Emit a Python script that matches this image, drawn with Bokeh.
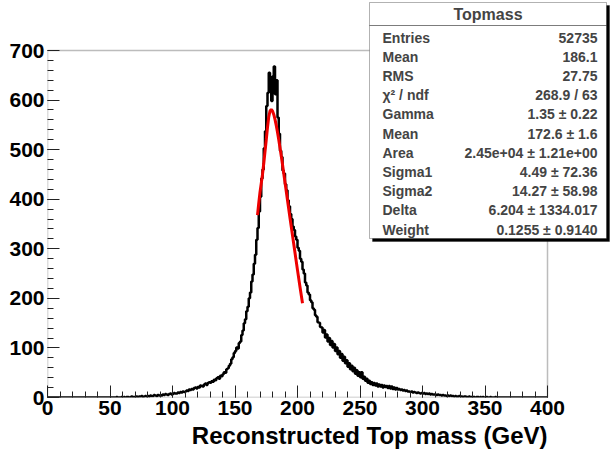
import numpy as np
from bokeh.plotting import figure
from bokeh.models import Label, BoxAnnotation, Range1d, FixedTicker, Title
from bokeh.embed import file_html
from bokeh.resources import INLINE

# ---- data -------------------------------------------------------------
bin_width = 1.0
counts = (
    [0] * 50
    + [0, 0, 0, 0, 0, 1, 0, 0, 0, 1]
    + [0, 1, 0, 1, 1, 0, 1, 2, 1, 1]
    + [1, 2, 1, 2, 2, 3, 1, 2, 3, 2]
    + [3, 2, 4, 3, 3, 5, 4, 3, 5, 4]
    + [5, 4, 6, 5, 7, 6, 5, 7, 8, 6]
    + [7, 9, 8, 8, 10, 9, 11, 10, 12, 11]
    + [12, 14, 13, 16, 15, 17, 16, 19, 20, 18]
    + [21, 20, 24, 23, 22, 26, 28, 25, 29, 31]
    + [30, 33, 32, 36, 35, 39, 41, 38, 44, 43]
    + [47, 51, 50, 57, 59, 64, 68, 77, 81, 90]
    + [94, 101, 99, 110, 113, 126, 135, 150, 158, 174]
    + [183, 200, 212, 234, 248, 270, 288, 318, 342, 375]
    + [405, 442, 460, 503, 537, 588, 615, 655, 642, 598]
    + [648, 668, 612, 640, 565, 532, 498, 485, 458, 452]
    + [430, 418, 398, 386, 370, 360, 345, 338, 325, 318]
    + [302, 296, 280, 274, 258, 250, 232, 226, 212, 208]
    + [196, 192, 180, 177, 166, 163, 152, 151, 142, 141]
    + [131, 136, 121, 127, 113, 120, 106, 114, 101, 108]
    + [94, 101, 87, 94, 80, 88, 74, 82, 69, 75]
    + [62, 69, 57, 64, 53, 60, 48, 55, 44, 51]
    + [41, 51, 38, 42, 34, 38, 30, 34, 27, 31]
    + [25, 29, 24, 28, 22, 26, 22, 25, 20, 24]
    + [21, 23, 19, 23, 18, 22, 17, 20, 16, 19]
    + [16, 17, 15, 16, 14, 15, 13, 14, 12, 12]
    + [11, 12, 10, 11, 10, 9, 10, 9, 8, 9]
    + [8, 9, 7, 8, 7, 8, 6, 7, 6, 6]
    + [6, 5, 6, 5, 5, 4, 5, 4, 4, 3]
    + [4, 3, 4, 3, 3, 2, 3, 2, 2, 3]
    + [2, 2, 1, 2, 2, 1, 1, 2, 1, 1]
    + [1, 1, 0, 1, 1, 0, 1, 0, 1, 0]
    + [0, 1, 0, 0, 1, 0, 0, 0, 1, 0]
    + [0] * 40
)

fit_x = [168, 169, 170, 171, 172, 173, 174, 175, 176, 177, 178, 179, 180,
         181, 182, 183, 184, 185, 186, 187, 188, 189, 190, 192, 194, 196,
         198, 200, 202, 204]
fit_y = [368, 392, 414, 432, 450, 472, 496, 520, 545, 566, 578, 581, 578,
         571, 561, 549, 535, 520, 504, 487, 470, 452, 434, 398, 362, 327,
         292, 257, 223, 190]

x_ticks = [0, 50, 100, 150, 200, 250, 300, 350, 400]
x_minor = list(range(0, 401, 10))
y_ticks = [0, 100, 200, 300, 400, 500, 600, 700]
y_minor = list(range(0, 701, 20))

stats_title = "Topmass"
stats_names = ["Entries", "Mean", "RMS", "\u03c7\u00b2 / ndf", "Gamma", "Mean",
               "Area", "Sigma1", "Sigma2", "Delta", "Weight"]
stats_values = ["52735", "186.1", "27.75", "268.9 / 63", "1.35 \u00b1 0.22",
                "172.6 \u00b1 1.6", "2.45e+04 \u00b1 1.21e+00",
                "4.49 \u00b1 72.36", "14.27 \u00b1 58.98",
                "6.204 \u00b1 1334.017", "0.1255 \u00b1 0.9140"]

x_label = "Reconstructed Top mass (GeV)"

# ---- figure -----------------------------------------------------------
FONT = "Liberation Sans"
X_MAX, Y_MAX = 400, 700
# the frame is extended past the axes so the statistics box can sit over its corner
p = figure(width=610, height=453, x_range=Range1d(0, 450.4), y_range=Range1d(0, 800.9),
           output_backend="svg", toolbar_location=None,
           min_border_left=47, min_border_right=0, min_border_top=0,
           min_border_bottom=56)
p.title.visible = False
p.background_fill_color = "white"
p.border_fill_color = "white"
p.outline_line_color = None
p.grid.visible = False

edges = (np.arange(len(counts) + 1) * bin_width).tolist()
p.step(edges, list(counts) + [counts[-1]], mode="after", line_color="black", line_width=2.5)
p.line(fit_x, fit_y, line_color="#ee0000", line_width=3)

# frame of the histogram
p.add_layout(BoxAnnotation(left=0, right=X_MAX, bottom=0, top=Y_MAX, fill_alpha=0,
                           line_color="#222222", line_width=1.5))

for ax in (p.xaxis[0], p.yaxis[0]):
    ax.major_tick_in = 12
    ax.major_tick_out = 0
    ax.minor_tick_in = 6
    ax.minor_tick_out = 0
    ax.major_label_text_font = FONT
    ax.major_label_text_font_style = "bold"
    ax.major_label_text_font_size = "21px"
    ax.major_label_text_color = "black"
    ax.axis_line_color = None
    ax.major_tick_line_color = "#222222"
    ax.minor_tick_line_color = "#222222"
    ax.major_label_standoff = 3

p.xaxis.ticker = FixedTicker(ticks=x_ticks, minor_ticks=x_minor)
p.yaxis.ticker = FixedTicker(ticks=y_ticks, minor_ticks=y_minor)

p.add_layout(Title(text=x_label, align="right", offset=63, text_font=FONT,
                   text_font_style="bold", text_font_size="24px", text_color="black",
                   standoff=4), "below")

# ---- stats box (screen units relative to frame bottom-left) -----------
fl, fb = 47, 397  # frame left / bottom in canvas pixels
def sx(cx):
    return cx - fl
def sy(cy):
    return fb - cy

box_l, box_r, box_t, box_b = 369, 606, 2, 238
p.add_layout(BoxAnnotation(left=sx(box_l + 3), right=sx(box_r + 3), top=sy(box_t + 3),
                           bottom=sy(box_b + 3), left_units="screen", right_units="screen",
                           top_units="screen", bottom_units="screen",
                           fill_color="black", fill_alpha=1, line_color="black"))
p.add_layout(BoxAnnotation(left=sx(box_l), right=sx(box_r), top=sy(box_t),
                           bottom=sy(box_b), left_units="screen", right_units="screen",
                           top_units="screen", bottom_units="screen",
                           fill_color="white", fill_alpha=1, line_color="black",
                           line_width=1))
p.add_layout(BoxAnnotation(left=sx(box_l), right=sx(box_r), top=sy(25),
                           bottom=sy(25), left_units="screen", right_units="screen",
                           top_units="screen", bottom_units="screen",
                           fill_alpha=0, line_color="black", line_width=1))

p.add_layout(Label(x=sx((box_l + box_r) / 2), y=sy(14), x_units="screen", y_units="screen",
                   text=stats_title, text_font=FONT, text_font_style="bold",
                   text_font_size="16px", text_align="center", text_baseline="middle"))
for i, (n, v) in enumerate(zip(stats_names, stats_values)):
    cy = 37 + i * 19.2
    p.add_layout(Label(x=sx(382), y=sy(cy), x_units="screen", y_units="screen",
                       text=n, text_font=FONT, text_font_style="bold",
                       text_font_size="14px", text_align="left", text_baseline="middle"))
    p.add_layout(Label(x=sx(597), y=sy(cy), x_units="screen", y_units="screen",
                       text=v, text_font=FONT, text_font_style="bold",
                       text_font_size="14px", text_align="right", text_baseline="middle"))

open("out.html", "w").write(file_html(p, INLINE))
